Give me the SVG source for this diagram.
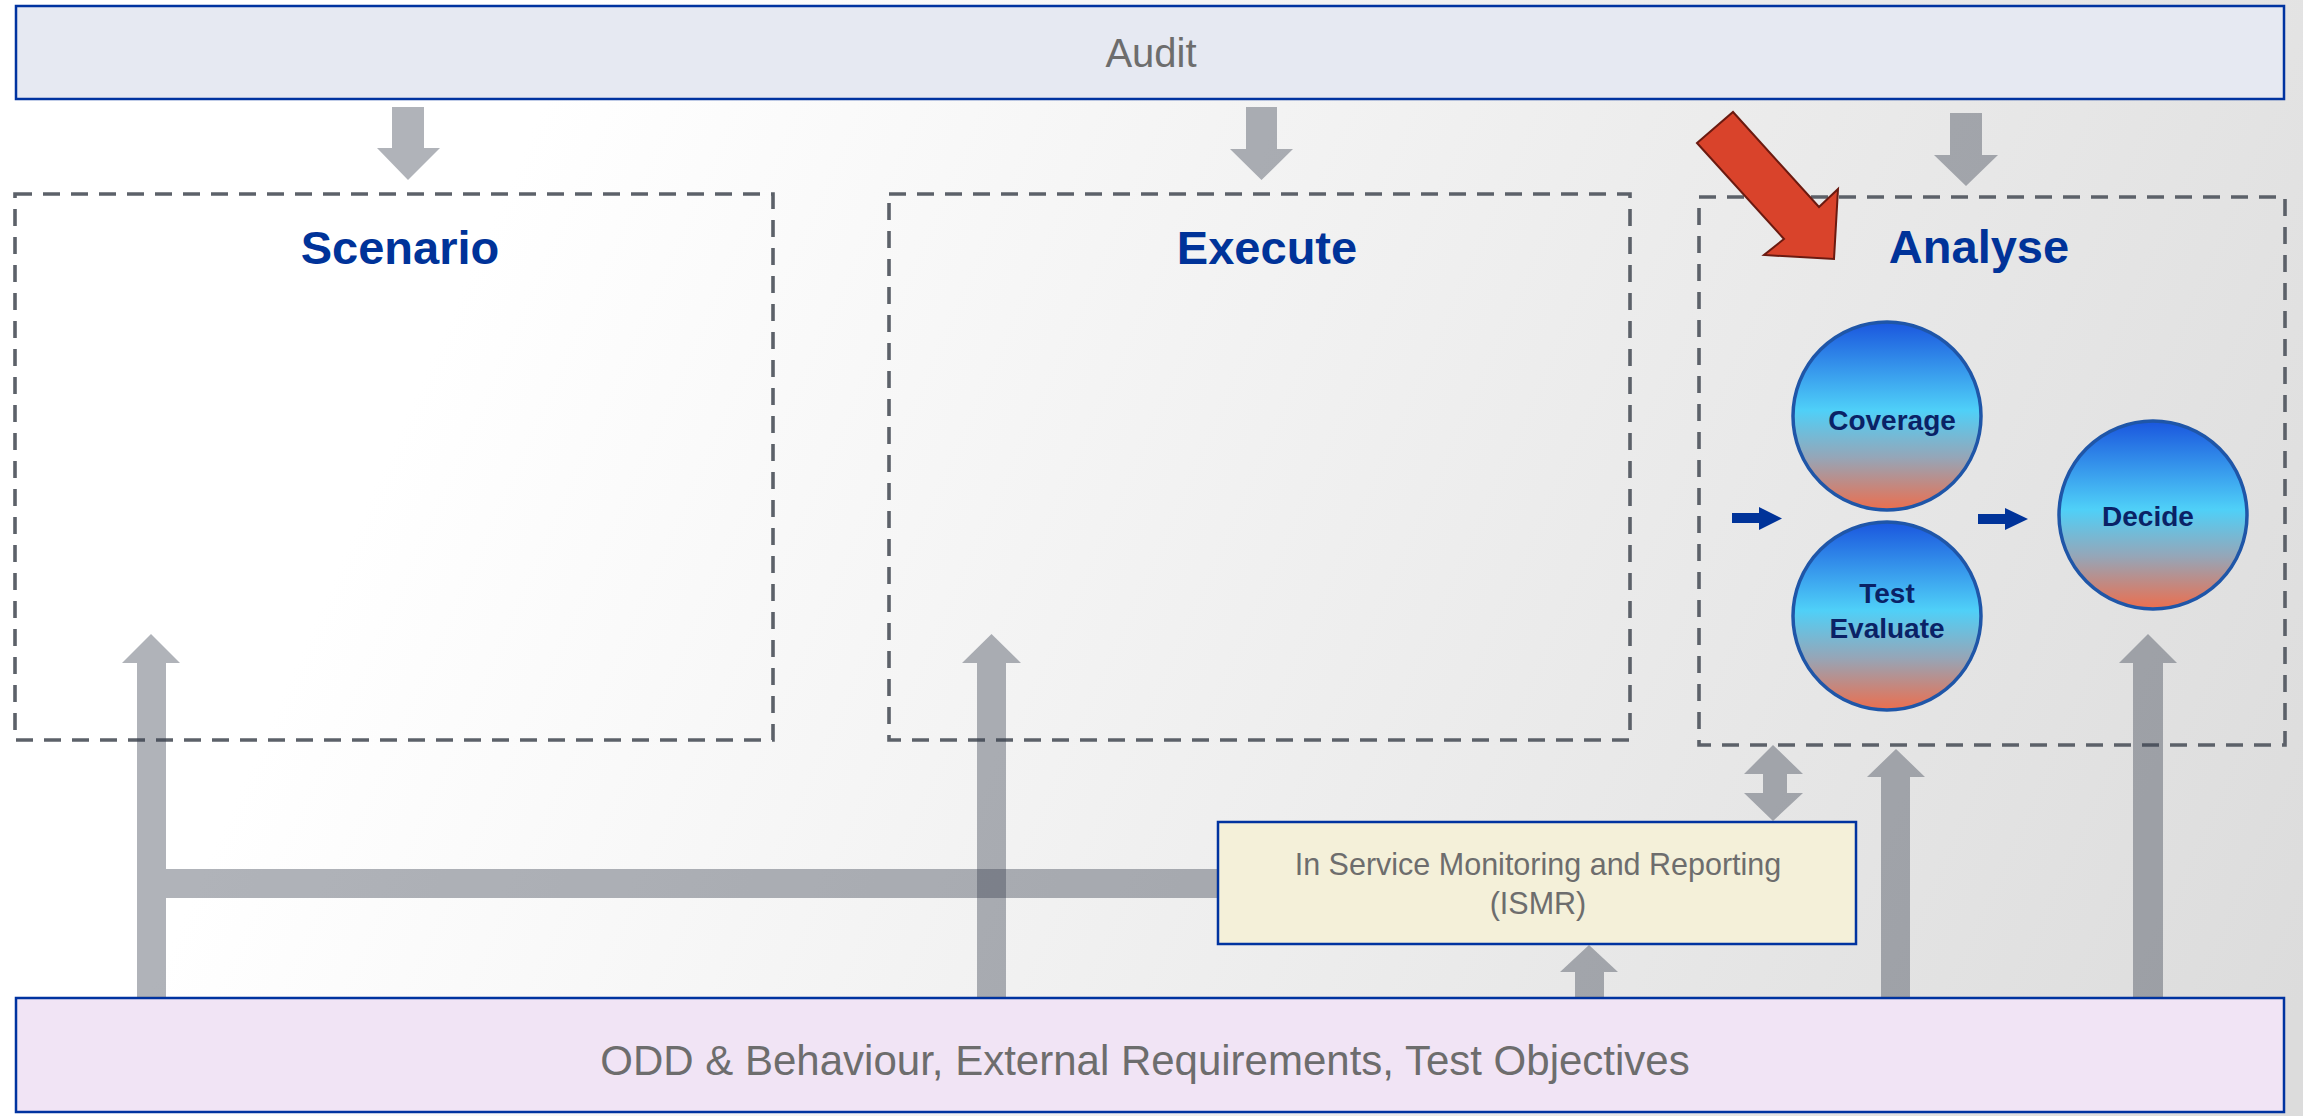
<svg xmlns="http://www.w3.org/2000/svg" width="2303" height="1116" viewBox="0 0 2303 1116">
<defs>
<linearGradient id="bg" gradientUnits="userSpaceOnUse" x1="500" y1="200" x2="2303" y2="1000">
<stop offset="0" stop-color="#ffffff"/>
<stop offset="1" stop-color="#dcdcdc"/>
</linearGradient>
<linearGradient id="ball" x1="0" y1="0" x2="0" y2="1">
<stop offset="0" stop-color="#1a56de"/>
<stop offset="0.47" stop-color="#4fd0f8"/>
<stop offset="0.72" stop-color="#95a6b8"/>
<stop offset="1" stop-color="#ec6e4e"/>
</linearGradient>
<style>
.dash{fill:none;stroke:#5c6169;stroke-width:3.6;stroke-dasharray:17 11}
.garrow{fill:#3a4250;fill-opacity:0.4}
.ball{fill:url(#ball);stroke:#1f56a8;stroke-width:3.5}
.title{font-family:"Liberation Sans",Arial,sans-serif;font-weight:bold;font-size:47px;fill:#003399;text-anchor:middle}
.btxt{font-family:"Liberation Sans",Arial,sans-serif;font-weight:bold;font-size:28px;fill:#0a2266;text-anchor:middle}
.gtxt{font-family:"Liberation Sans",Arial,sans-serif;fill:#6d6d6d;text-anchor:middle}
.barrow{fill:#003399}
</style>
</defs>
<rect x="0" y="0" width="2303" height="1116" fill="url(#bg)"/>

<g id="audit">
<rect x="16" y="6" width="2268" height="93" fill="#e6e9f2" stroke="#0033a0" stroke-width="2.5"/>
<text class="gtxt" x="1151" y="67" font-size="40">Audit</text>
</g>

<g id="scenario">
<rect class="dash" x="15" y="194" width="758" height="546"/>
<text class="title" x="400" y="264">Scenario</text>
</g>

<g id="execute">
<rect class="dash" x="889" y="194" width="741" height="546"/>
<text class="title" x="1267" y="264">Execute</text>
</g>

<g id="analyse">
<rect class="dash" x="1699" y="197" width="586" height="548"/>
<text class="title" x="1979" y="263">Analyse</text>
</g>

<g id="coverage">
<circle class="ball" cx="1887" cy="416" r="94"/>
<text class="btxt" x="1892" y="430">Coverage</text>
</g>

<g id="test-evaluate">
<circle class="ball" cx="1887" cy="616" r="94"/>
<text class="btxt" x="1887" y="603">Test</text>
<text class="btxt" x="1887" y="638">Evaluate</text>
</g>

<g id="decide">
<circle class="ball" cx="2153" cy="515" r="94"/>
<text class="btxt" x="2148" y="526">Decide</text>
</g>

<g id="ismr">
<rect x="1218" y="822" width="638" height="122" fill="#f4f0d9" stroke="#0033a0" stroke-width="2.5"/>
<text class="gtxt" x="1538" y="875" font-size="30.5">In Service Monitoring and Reporting</text>
<text class="gtxt" x="1538" y="914" font-size="30.5">(ISMR)</text>
</g>

<g id="odd">
<rect x="16" y="998" width="2268" height="114" fill="#f1e4f5" stroke="#0033a0" stroke-width="2.5"/>
<text class="gtxt" x="1145" y="1075" font-size="42">ODD &amp; Behaviour, External Requirements, Test Objectives</text>
</g>

<g id="connectors">
<polygon class="garrow" points="392,107 424,107 424,148 440,148 408,180 377,148 392,148"/>
<polygon class="garrow" points="1246,107 1277,107 1277,149 1293,149 1261.5,180 1230,149 1246,149"/>
<polygon class="garrow" points="1950,113 1982,113 1982,155 1998,155 1966,186 1934,155 1950,155"/>
<polygon class="garrow" points="137,997 137,663 122,663 151,634 180,663 166,663 166,997"/>
<polygon class="garrow" points="977,997 977,663 962,663 991.5,634 1021,663 1006,663 1006,997"/>
<polygon class="garrow" points="1575,997 1575,972 1560,972 1589,945 1618,972 1604,972 1604,997"/>
<polygon class="garrow" points="1881,997 1881,777 1867,777 1896,749 1925,777 1910,777 1910,997"/>
<polygon class="garrow" points="2133,997 2133,663 2119,663 2148,634 2177,663 2163,663 2163,997"/>
<polygon class="garrow" points="1773,745 1803,774 1787,774 1787,793 1803,793 1773,821 1744,793 1763,793 1763,774 1744,774"/>
<rect class="garrow" x="166" y="869" width="1051" height="29"/>
<polygon class="barrow" points="1732,513 1759,513 1759,507 1782,518.5 1759,530 1759,523 1732,523"/>
<polygon class="barrow" points="1978,514 2005,514 2005,508 2028,519 2005,530 2005,524 1978,524"/>
<polygon points="1697,143 1733,112 1819,207 1838,189 1834,259 1764,255 1784,239" fill="#d9432b" stroke="#6b1a10" stroke-width="2" stroke-linejoin="miter"/>
</g>
</svg>
